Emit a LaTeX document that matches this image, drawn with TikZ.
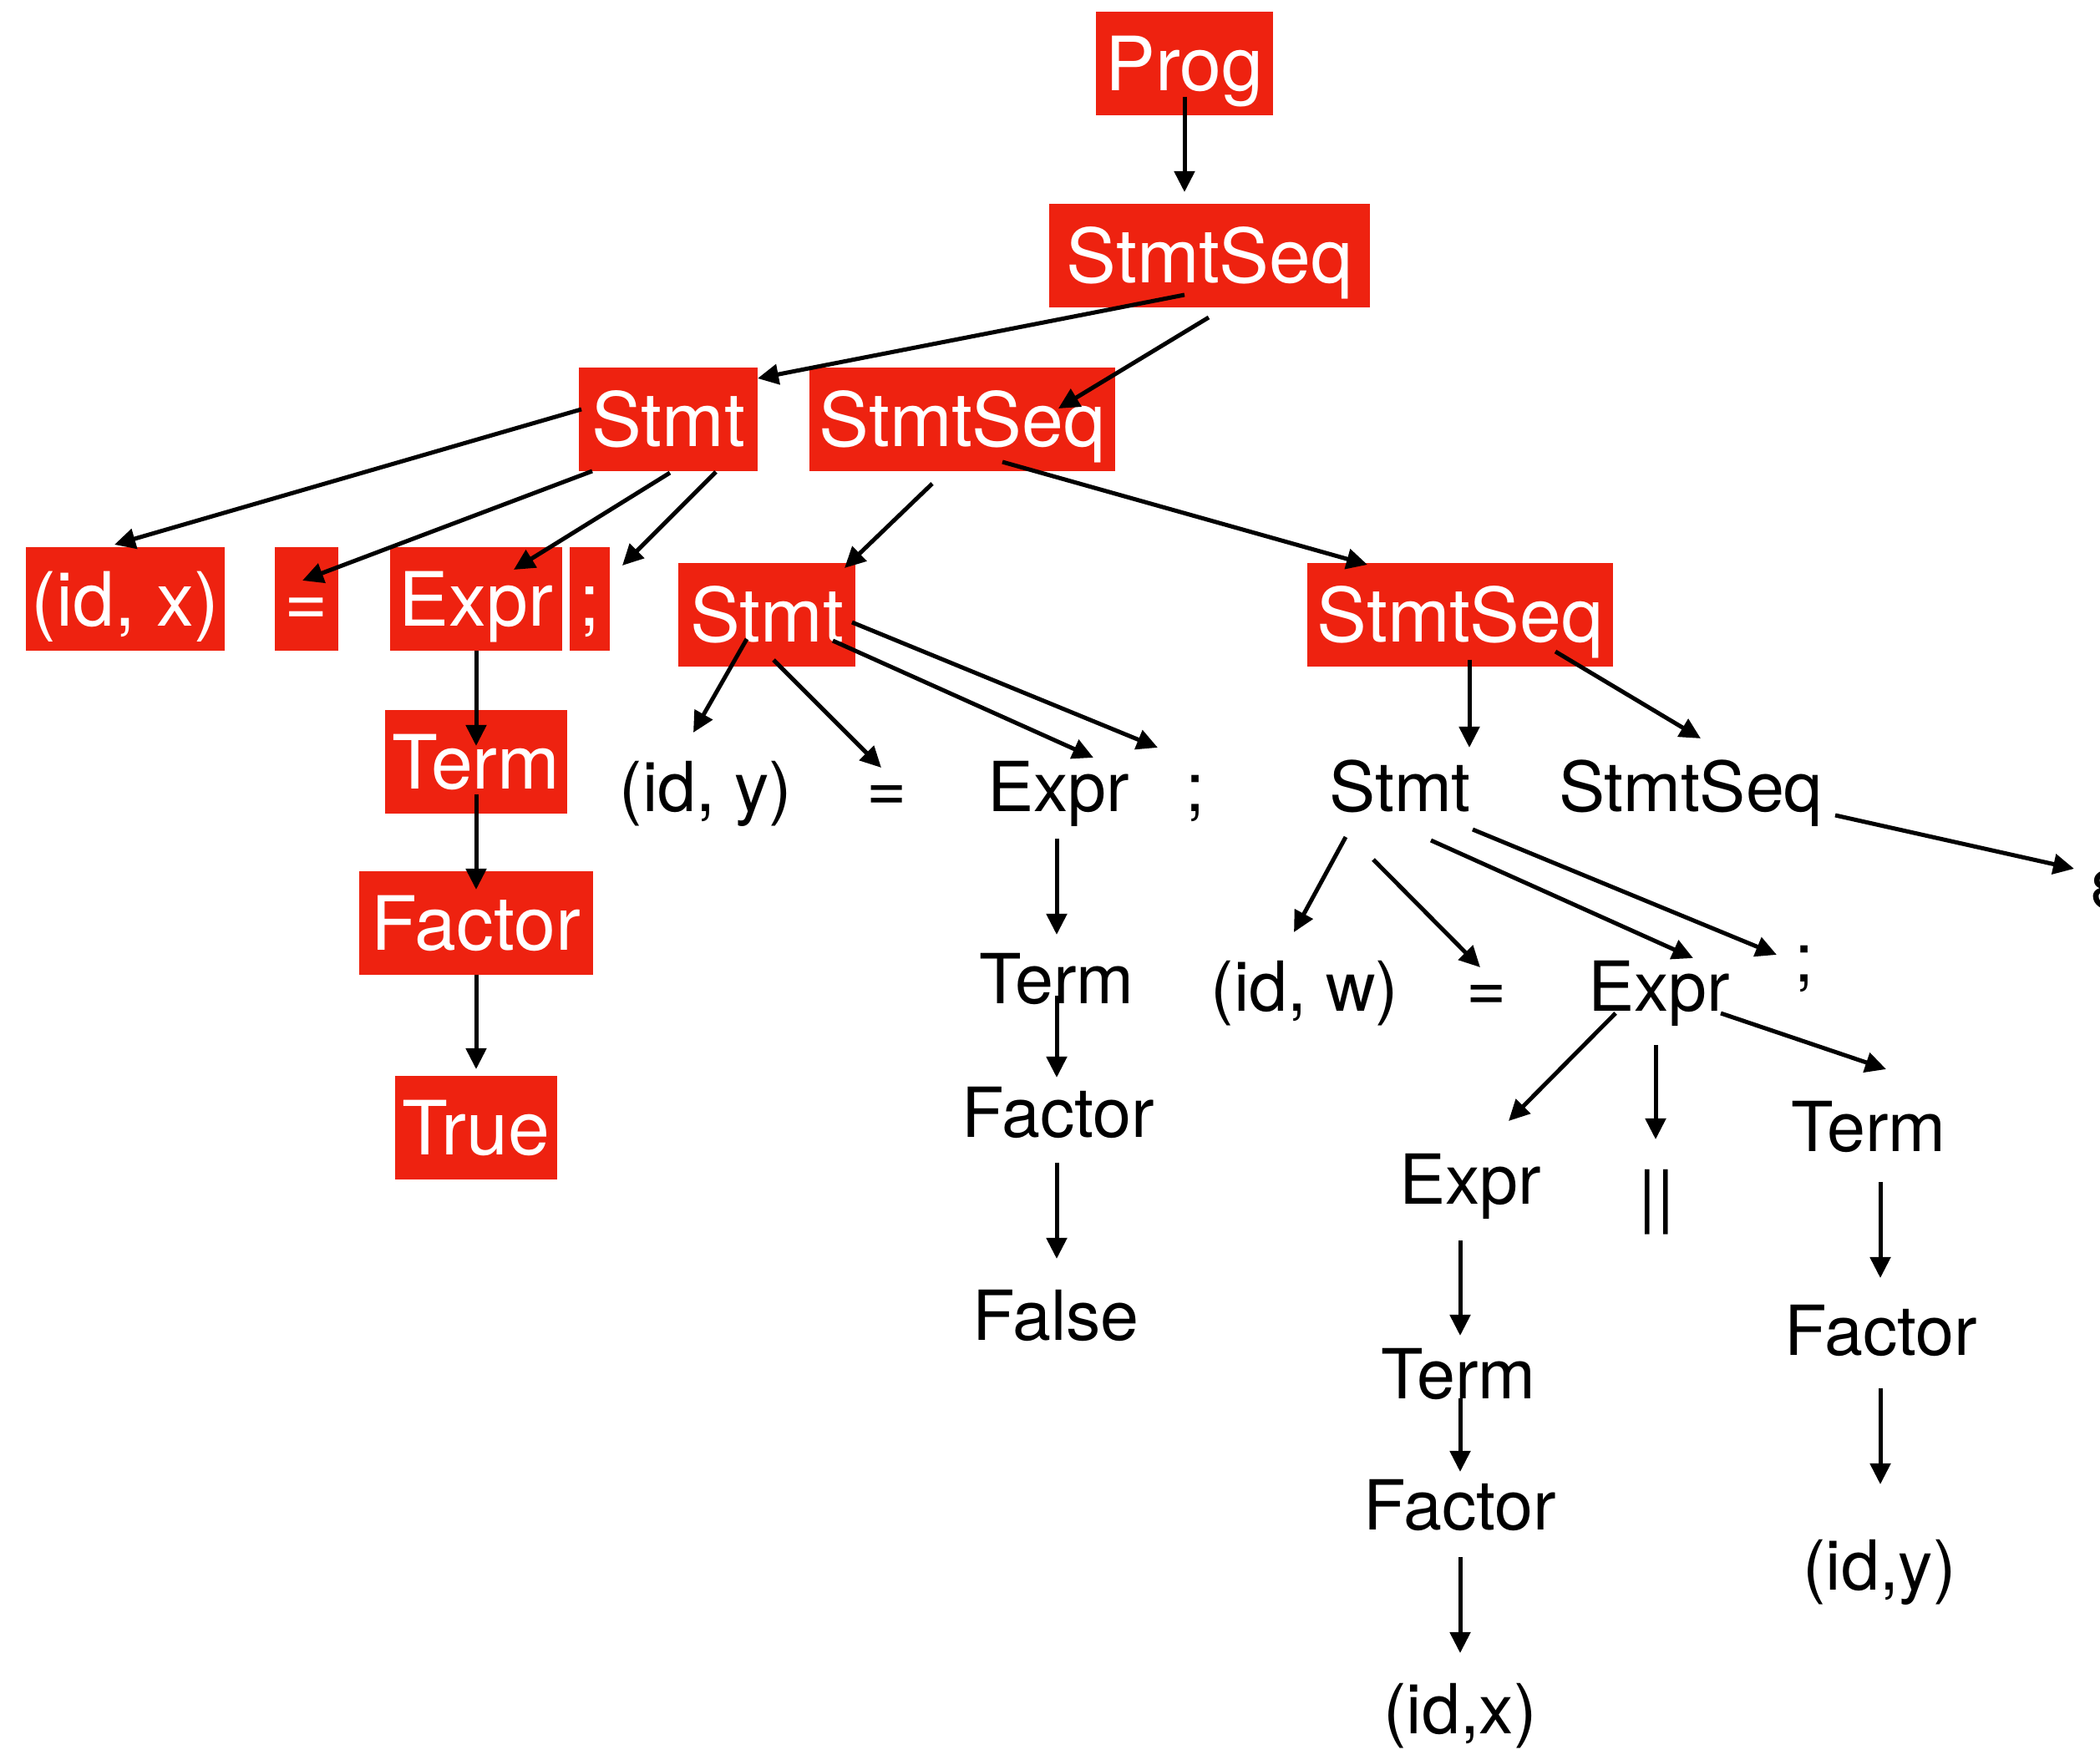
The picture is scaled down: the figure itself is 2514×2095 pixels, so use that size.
\documentclass[tikz,border=0pt]{standalone}
\usepackage{fontspec}
\setmainfont{TeX Gyre Heros}
\usetikzlibrary{arrows.meta,calc}
\definecolor{boxred}{RGB}{238,34,16}
\tikzset{
  redbox/.style={fill=boxred, text=white, inner sep=0pt,
    minimum height=1.23cm, minimum width=#1,
    text height=18.3pt, text depth=0pt,
    font=\fontsize{25.5}{30}\selectfont},
  plain/.style={anchor=base, inner sep=0pt, font=\fontsize{23.5}{28}\selectfont},
  arr/.style={-{Triangle[length=0.25cm,width=0.24cm]}, line width=0.05cm},
}
\begin{document}
\begin{tikzpicture}[x=0.01cm, y=-0.01cm]
\clip (0,0) rectangle (2514,2095);

% highlighted part of the tree
\node[redbox=2.11cm] (prog) at (1418,76)  {Prog};
\node[redbox=3.83cm] (ss1)  at (1448,306) {StmtSeq};
\node[redbox=2.13cm] (st1)  at (800,502)  {Stmt};
\node[redbox=3.66cm] (ss2)  at (1152,502) {StmtSeq};
\node[redbox=2.38cm] (idx)  at (150,717)  {(id, x)};
\node[redbox=0.76cm] (eq1)  at (367,717)  {=};
\node[redbox=2.05cm] (ex1)  at (570,717)  {Expr};
\node[redbox=0.48cm] (sc1)  at (706,717)  {;};
\node[redbox=2.17cm] (te1)  at (570,912)  {Term};
\node[redbox=2.79cm] (fa1)  at (570,1105) {Factor};
\node[redbox=1.94cm] (tr1)  at (570,1350) {True};
\node[redbox=2.11cm] (st2)  at (918,736)  {Stmt};
\node[redbox=3.66cm] (ss3)  at (1748,736) {StmtSeq};

% remaining nodes
\node[plain] (idy)  at (845,972)   {(id, y)};
\node[plain] (eq2)  at (1062,972)  {=};
\node[plain] (ex2)  at (1267,972)  {Expr};
\node[plain] (sc2)  at (1431,972)  {;};
\node[plain] (st3)  at (1676,972)  {Stmt};
\node[plain] (ss4)  at (2024,972)  {StmtSeq};
\node[plain] (te2)  at (1265,1202) {Term};
\node[plain] (fa2)  at (1267,1362) {Factor};
\node[plain] (fl)   at (1264,1604) {False};
\node[plain] (idw)  at (1562,1211) {(id, w)};
\node[plain] (eq3)  at (1780,1211) {=};
\node[plain] (ex3)  at (1986,1211) {Expr};
\node[plain] (sc3)  at (2160,1176) {;};
\node[plain] (ex4)  at (1760,1442) {Expr};
\node[plain] (bar)  at (1983,1461) {||};
\node[plain] (te3)  at (2237,1379) {Term};
\node[plain] (fa3)  at (2252,1623) {Factor};
\node[plain] (idyy) at (2250,1903) {(id,y)};
\node[plain] (te4)  at (1746,1674) {Term};
\node[plain] (fa4)  at (1748,1831) {Factor};
\node[plain] (idxx) at (1748,2075) {(id,x)};
\node[plain, anchor=base west] (eps) at (2500,1088) {ε};

% connectors
\draw[arr] ($(prog)+(0,40)$)   -- ($(ss1)+(-30,-76)$);
\draw[arr] ($(ss1)+(-30,47)$)  -- ($(st1)+(107,-49)$);
\draw[arr] ($(ss1)+(-1,74)$)   -- ($(ss2)+(115,-13)$);
\draw[arr] ($(st1)+(-104,-12)$) -- ($(idx)+(-13,-65)$);
\draw[arr] ($(st1)+(-91,62)$)  -- ($(eq1)+(-5,-22)$);
\draw[arr] ($(st1)+(2,64)$)    -- ($(ex1)+(45,-35)$);
\draw[arr] ($(st1)+(57,63)$)   -- ($(sc1)+(39,-40)$);
\draw[arr] ($(ex1)+(0,62)$)    -- ($(te1)+(0,-19)$);
\draw[arr] ($(te1)+(0,39)$)    -- ($(fa1)+(0,-40)$);
\draw[arr] ($(fa1)+(0,62)$)    -- ($(tr1)+(0,-70)$);
\draw[arr] ($(ss2)+(-36,77)$)  -- ($(st2)+(93,-56)$);
\draw[arr] ($(ss2)+(48,51)$)   -- ($(ss3)+(-111,-60)$);
\draw[arr] ($(st2)+(-24,29)$)  -- ($(idy.base)+(-15,-95)$);
\draw[arr] ($(st2)+(8,54)$)    -- ($(eq2.base)+(-7,-53)$);
\draw[arr] ($(st2)+(79,31)$)   -- ($(ex2.base)+(42,-65)$);
\draw[arr] ($(st2)+(102,9)$)   -- ($(sc2.base)+(-45,-77)$);
\draw[arr] ($(ex2.base)+(-2,32)$)  -- ($(te2.base)+(0,-83)$);
\draw[arr] ($(te2.base)+(0,-10)$)  -- ($(fa2.base)+(-2,-72)$);
\draw[arr] ($(fa2.base)+(-2,30)$)  -- ($(fl.base)+(1,-97)$);
\draw[arr] ($(ss3)+(11,54)$)   -- ($(st3.base)+(83,-77)$);
\draw[arr] ($(ss3)+(114,44)$)  -- ($(ss4.base)+(12,-88)$);
\draw[arr] ($(ss4.base)+(173,4)$)  -- ($(eps.base west)+(-17,-48)$);
\draw[arr] ($(st3.base)+(-65,30)$) -- ($(idw.base)+(-13,-95)$);
\draw[arr] ($(st3.base)+(-32,57)$) -- ($(eq3.base)+(-8,-53)$);
\draw[arr] ($(st3.base)+(37,34)$)  -- ($(ex3.base)+(41,-64)$);
\draw[arr] ($(st3.base)+(87,21)$)  -- ($(sc3.base)+(-33,-33)$);
\draw[arr] ($(ex3.base)+(-52,2)$)  -- ($(ex4.base)+(46,-100)$);
\draw[arr] ($(ex3.base)+(-4,40)$)  -- ($(bar.base)+(-1,-97)$);
\draw[arr] ($(ex3.base)+(74,2)$)   -- ($(te3.base)+(21,-99)$);
\draw[arr] ($(te3.base)+(14,36)$)  -- ($(fa3.base)+(-1,-93)$);
\draw[arr] ($(fa3.base)+(-1,39)$)  -- ($(idyy.base)+(1,-126)$);
\draw[arr] ($(ex4.base)+(-12,43)$) -- ($(te4.base)+(2,-75)$);
\draw[arr] ($(te4.base)+(2,0)$)    -- ($(fa4.base)+(0,-69)$);
\draw[arr] ($(fa4.base)+(0,33)$)   -- ($(idxx.base)+(0,-96)$);
\end{tikzpicture}
\end{document}
